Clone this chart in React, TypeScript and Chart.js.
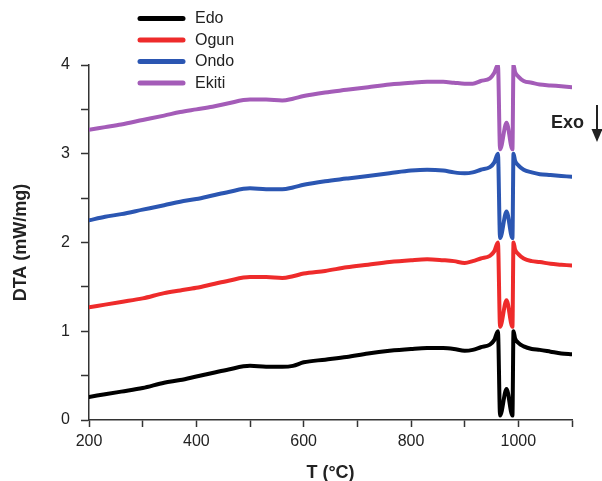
import React, { useEffect, useRef } from "react";
import { Chart, registerables } from "chart.js";

Chart.register(...registerables);

// Temperature (°C) sample points shared by all series
const temps = [
  200, 230, 260, 300, 340, 370, 400, 430, 460, 500, 530, 560, 580, 600, 640,
  680, 720, 760, 800, 830, 860, 880, 900, 915, 930, 947, 955, 962, 966, 978,
  989, 991, 994, 1000, 1010, 1025, 1040, 1060, 1080, 1100,
];

const edo = [
  0.26, 0.29, 0.32, 0.36, 0.42, 0.45, 0.49, 0.53, 0.57, 0.61, 0.6, 0.6, 0.61,
  0.65, 0.68, 0.71, 0.75, 0.78, 0.8, 0.81, 0.81, 0.8, 0.78, 0.79, 0.82, 0.85,
  0.9, 1.0, 0.05, 0.35, 0.05, 1.0, 0.92, 0.87, 0.83, 0.8, 0.79, 0.77, 0.75,
  0.74,
];

const ogun = [
  1.27, 1.3, 1.33, 1.37, 1.43, 1.46, 1.49, 1.53, 1.57, 1.61, 1.61, 1.6, 1.62,
  1.65, 1.68, 1.72, 1.75, 1.78, 1.8, 1.81, 1.8, 1.79, 1.77, 1.79, 1.82, 1.85,
  1.9, 2.0, 1.05, 1.35, 1.05, 2.0, 1.92, 1.87, 1.82, 1.79, 1.78, 1.76, 1.75,
  1.74,
];

const ondo = [
  2.25, 2.29, 2.32, 2.37, 2.42, 2.46, 2.49, 2.53, 2.57, 2.61, 2.6, 2.6, 2.62,
  2.65, 2.69, 2.72, 2.75, 2.78, 2.81, 2.82, 2.81, 2.79, 2.78, 2.79, 2.82, 2.85,
  2.9, 3.0, 2.05, 2.35, 2.05, 3.0, 2.92, 2.87, 2.82, 2.79, 2.77, 2.76, 2.75,
  2.74,
];

const ekiti = [
  3.27, 3.3, 3.33, 3.38, 3.43, 3.47, 3.5, 3.53, 3.57, 3.61, 3.61, 3.6, 3.62,
  3.65, 3.69, 3.72, 3.75, 3.78, 3.8, 3.81, 3.81, 3.8, 3.79, 3.79, 3.82, 3.85,
  3.91, 4.0, 3.05, 3.35, 3.05, 4.0, 3.92, 3.87, 3.82, 3.8, 3.78, 3.77, 3.76,
  3.75,
];

const seriesNames = ["Edo", "Ogun", "Ondo", "Ekiti"];
const seriesValues = [edo, ogun, ondo, ekiti];
const seriesColors = ["#000000", "#ee2b2b", "#2b56b2", "#a45cb8"];

const xTickLabels = [200, 400, 600, 800, 1000];
const yTickLabels = [0, 1, 2, 3, 4];

const FONT = "'Liberation Sans', Arial, Helvetica, sans-serif";

export default function App() {
  const ref = useRef<HTMLCanvasElement>(null);

  useEffect(() => {
    const canvas = ref.current;
    if (!canvas) return;

    const legendPlugin = {
      id: "customLegend",
      afterDraw(chart: any) {
        const ctx = chart.ctx as CanvasRenderingContext2D;
        ctx.save();
        chart.data.datasets.forEach((ds: any, i: number) => {
          const y = 18.5 + i * 21.5;
          ctx.strokeStyle = ds.borderColor;
          ctx.lineWidth = 5;
          ctx.lineCap = "round";
          ctx.beginPath();
          ctx.moveTo(140, y);
          ctx.lineTo(183, y);
          ctx.stroke();
          ctx.fillStyle = "#222";
          ctx.font = `16px ${FONT}`;
          ctx.textAlign = "left";
          ctx.textBaseline = "middle";
          ctx.fillText(ds.label, 195, y + 0.5);
        });
        ctx.restore();
      },
    };

    const exoPlugin = {
      id: "exoMarker",
      afterDraw(chart: any) {
        const ctx = chart.ctx as CanvasRenderingContext2D;
        ctx.save();
        ctx.fillStyle = "#222";
        ctx.font = `bold 18px ${FONT}`;
        ctx.textAlign = "left";
        ctx.textBaseline = "middle";
        ctx.fillText("Exo", 551, 123);
        ctx.strokeStyle = "#222";
        ctx.lineWidth = 2;
        ctx.beginPath();
        ctx.moveTo(597, 105);
        ctx.lineTo(597, 132);
        ctx.stroke();
        ctx.beginPath();
        ctx.moveTo(591.5, 129);
        ctx.lineTo(602.5, 129);
        ctx.lineTo(597, 142);
        ctx.closePath();
        ctx.fill();
        ctx.restore();
      },
    };

    const chart = new Chart(canvas, {
      type: "line",
      data: {
        datasets: seriesValues.map((vals, i) => ({
          label: seriesNames[i],
          data: temps.map((t, j) => ({ x: t, y: vals[j] })),
          borderColor: seriesColors[i],
          backgroundColor: seriesColors[i],
          borderWidth: 4,
          pointRadius: 0,
          fill: false,
          cubicInterpolationMode: "monotone" as const,
          borderJoinStyle: "round" as const,
          borderCapStyle: "round" as const,
        })),
      },
      options: {
        responsive: false,
        animation: false,
        devicePixelRatio: 1,
        layout: { padding: { left: 0, right: 30, top: 65, bottom: 0 } },
        plugins: {
          legend: { display: false },
          tooltip: { enabled: false },
        },
        scales: {
          x: {
            type: "linear",
            min: 200,
            max: 1100,
            ticks: {
              stepSize: 100,
              autoSkip: false,
              maxRotation: 0,
              padding: 5,
              color: "#222",
              font: { family: FONT, size: 16 },
              callback: (v: any) => (xTickLabels.includes(Number(v)) ? String(v) : ""),
            },
            grid: {
              display: true,
              drawOnChartArea: false,
              drawTicks: true,
              tickLength: 7,
              tickWidth: 1.5,
              tickColor: "#333",
            },
            border: { display: true, color: "#333", width: 1.5 },
            title: {
              display: true,
              text: "T (°C)",
              color: "#222",
              font: { family: FONT, size: 18, weight: "bold", lineHeight: 0.85 },
              padding: 0,
            },
            afterFit: (s: any) => {
              s.height = 61;
            },
          },
          y: {
            type: "linear",
            min: 0,
            max: 4,
            ticks: {
              stepSize: 0.5,
              autoSkip: false,
              padding: 11,
              color: "#222",
              font: { family: FONT, size: 16 },
              callback: (v: any) => (yTickLabels.includes(Number(v)) ? String(v) : ""),
            },
            grid: {
              display: true,
              drawOnChartArea: false,
              drawTicks: true,
              tickLength: 8,
              tickWidth: 1.5,
              tickColor: "#333",
            },
            border: { display: true, color: "#333", width: 1.5 },
            title: {
              display: true,
              text: "DTA (mW/mg)",
              color: "#222",
              font: { family: FONT, size: 18, weight: "bold", lineHeight: 1.2 },
              padding: { top: 10, bottom: 0 },
            },
            afterFit: (s: any) => {
              s.width = 89;
            },
          },
        },
      },
      plugins: [legendPlugin, exoPlugin],
    });

    return () => chart.destroy();
  }, []);

  return (
    <div
      style={{
        position: "fixed",
        left: 0,
        top: 0,
        width: 602,
        height: 481,
        background: "#fff",
      }}
    >
      <canvas ref={ref} width={602} height={481} style={{ display: "block" }} />
    </div>
  );
}
